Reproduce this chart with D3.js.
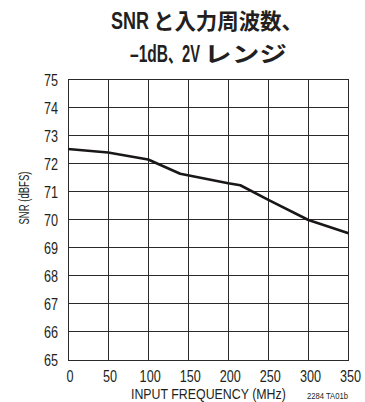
<!DOCTYPE html>
<html>
<head>
<meta charset="utf-8">
<script src="https://cdn.jsdelivr.net/npm/d3@7"></script>
<style>
  html, body { margin: 0; padding: 0; background: #fff; }
  svg { display: block; }
  text { font-family: "Liberation Sans", Arial, sans-serif; fill: #231f20; }
</style>
</head>
<body>
<div id="chart"></div>
<script>
// Measured SNR versus input frequency
const freqMHz = [0, 50, 100, 140, 200, 215, 250, 300, 350];
const snrDbfs = [72.52, 72.40, 72.15, 71.64, 71.30, 71.23, 70.71, 69.99, 69.52];

const xTicks = [0, 50, 100, 150, 200, 250, 300, 350];
const yTicks = [65, 66, 67, 68, 69, 70, 71, 72, 73, 74, 75];

const titleLine1 = ["SNR", "と入力周波数、"];
const titleLine2 = ["–1dB", "、", "2V", "レンジ"];
const xTitle = "INPUT FREQUENCY (MHz)";
const yTitle = "SNR (dBFS)";
const figId = "2284 TA01b";

const W = 365, H = 402;
const plot = { left: 68, right: 348.5, top: 79.5, bottom: 360 };
const LATIN = "'Liberation Sans', Arial, sans-serif";
const CJK = "'Noto Sans CJK JP', sans-serif";
const NARROW = 0.79; // horizontal squeeze for a condensed look

const svg = d3.select("#chart").append("svg")
  .attr("width", W).attr("height", H);

const x = d3.scaleLinear().domain([0, 350]).range([plot.left, plot.right]);
const y = d3.scaleLinear().domain([65, 75]).range([plot.bottom, plot.top]);

// Places a string so that it starts at x0 and spans the given width
function fitText(parent, str, x0, baseY, width, size, weight, family) {
  const t = parent.append("text")
    .attr("font-size", size).attr("font-weight", weight)
    .style("font-family", family).text(str);
  const natural = t.node().getComputedTextLength();
  t.attr("transform", `translate(${x0},${baseY}) scale(${width / natural},1)`);
  return t;
}

// Title
const title = svg.append("g");
fitText(title, titleLine1[0], 111, 29, 38, 23, "bold", LATIN);
fitText(title, titleLine1[1], 153, 29, 150, 22, "bold", CJK);
fitText(title, titleLine2[0], 130, 62, 38, 23, "bold", LATIN);
fitText(title, titleLine2[1], 168, 62, 14, 22, "bold", CJK);
fitText(title, titleLine2[2], 182, 62, 18, 23, "bold", LATIN);
fitText(title, titleLine2[3], 204, 62, 83, 22, "bold", CJK);

// Grid
const grid = svg.append("g").attr("stroke", "#2a2a2a").attr("stroke-width", 1).attr("shape-rendering", "crispEdges");
grid.selectAll("line.v").data(xTicks).join("line")
  .attr("x1", d => x(d)).attr("x2", d => x(d))
  .attr("y1", plot.top).attr("y2", plot.bottom);
grid.selectAll("line.h").data(yTicks).join("line")
  .attr("x1", plot.left).attr("x2", plot.right)
  .attr("y1", d => y(d)).attr("y2", d => y(d));

// Axes (labels only; the grid provides the lines)
const xAxis = svg.append("g").attr("transform", `translate(0,${plot.bottom})`)
  .call(d3.axisBottom(x).tickValues(xTicks).tickSize(0).tickPadding(0));
xAxis.select(".domain").remove();
xAxis.selectAll("text")
  .attr("font-size", 16).attr("y", null).attr("dy", null)
  .attr("transform", `translate(1.5,21.5) scale(${NARROW},1)`)
  .style("font-family", LATIN).attr("fill", "#231f20");

const yAxis = svg.append("g").attr("transform", `translate(${plot.left},0)`)
  .call(d3.axisLeft(y).tickValues(yTicks).tickSize(0).tickPadding(0));
yAxis.select(".domain").remove();
yAxis.selectAll("text")
  .attr("font-size", 16).attr("x", null).attr("dy", "0.36em")
  .attr("transform", `translate(-10,0) scale(${NARROW},1)`)
  .style("font-family", LATIN).attr("fill", "#231f20");

// Axis titles
const labels = svg.append("g");
fitText(labels, xTitle, 131, 398.5, 155, 14.5, "normal", LATIN);
fitText(labels, figId, 307, 398.5, 41, 9.5, "normal", LATIN);
const yt = svg.append("g").attr("transform", "translate(29,224.5) rotate(-90)");
fitText(yt, yTitle, 0, 0, 53, 14.5, "normal", LATIN);

// Data curve
const line = d3.line().x((d, i) => x(freqMHz[i])).y(d => y(d));
svg.append("path").datum(snrDbfs)
  .attr("d", line)
  .attr("fill", "none").attr("stroke", "#1a1718").attr("stroke-width", 2.6)
  .attr("stroke-linejoin", "round").attr("stroke-linecap", "butt");
</script>
</body>
</html>
